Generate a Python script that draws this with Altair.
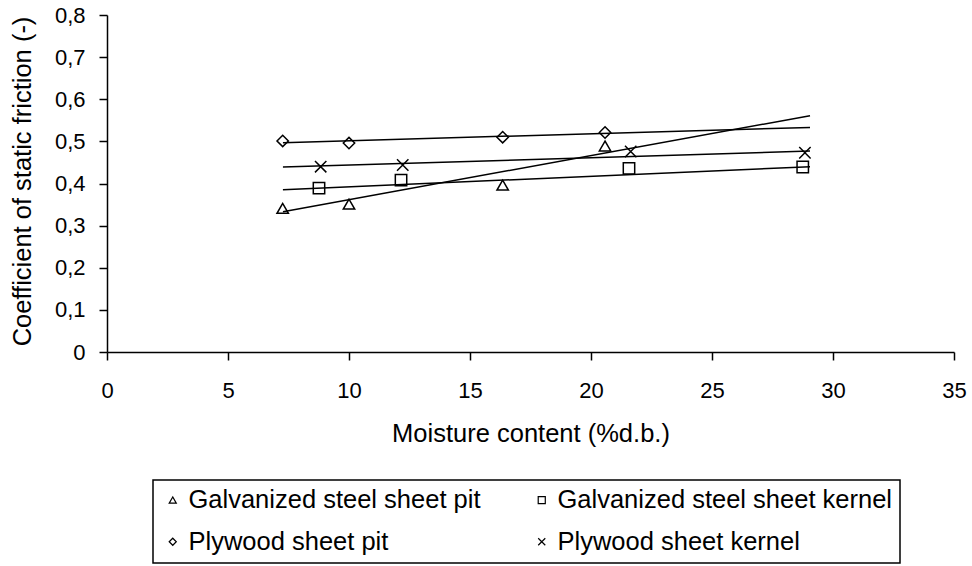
import altair as alt
import pandas as pd

FONT = "Liberation Sans"

series_names = [
    "Galvanized steel sheet pit",
    "Galvanized steel sheet kernel",
    "Plywood sheet pit",
    "Plywood sheet kernel",
]

# measured points (moisture %d.b., coefficient of static friction)
gs_pit_x = [7.26, 10.0, 16.35, 20.58]
gs_pit_y = [0.341, 0.351, 0.396, 0.489]
gs_kernel_x = [8.76, 12.15, 21.57, 28.75]
gs_kernel_y = [0.389, 0.408, 0.436, 0.439]
pw_pit_x = [7.26, 10.0, 16.35, 20.58]
pw_pit_y = [0.501, 0.496, 0.510, 0.521]
pw_kernel_x = [8.83, 12.22, 21.64, 28.84]
pw_kernel_y = [0.440, 0.444, 0.476, 0.473]

# trend line end points
trend_x = [7.27, 29.05]
gs_pit_trend = [0.333, 0.561]
gs_kernel_trend = [0.385, 0.440]
pw_pit_trend = [0.497, 0.533]
pw_kernel_trend = [0.439, 0.477]

x_ticks = [0, 5, 10, 15, 20, 25, 30, 35]
y_ticks = [0, 0.1, 0.2, 0.3, 0.4, 0.5, 0.6, 0.7, 0.8]

shape_range = ["triangle-up", "square", "diamond", "M-1,-1L1,1M-1,1L1,-1"]

pts_rows = []
for name, xs, ys in zip(series_names,
                        [gs_pit_x, gs_kernel_x, pw_pit_x, pw_kernel_x],
                        [gs_pit_y, gs_kernel_y, pw_pit_y, pw_kernel_y]):
    for xv, yv in zip(xs, ys):
        pts_rows.append({"series": name, "x": xv, "y": yv})
points = pd.DataFrame(pts_rows)

trend_rows = []
for name, ys in zip(series_names, [gs_pit_trend, gs_kernel_trend, pw_pit_trend, pw_kernel_trend]):
    for xv, yv in zip(trend_x, ys):
        trend_rows.append({"series": name, "x": xv, "y": yv})
trends = pd.DataFrame(trend_rows)

x_enc = alt.X(
    "x:Q",
    scale=alt.Scale(domain=[0, 35], nice=False, zero=False),
    axis=alt.Axis(
        values=x_ticks,
        title="Moisture content (%d.b.)",
        labelPadding=37,
        labelBaseline="alphabetic",
        labelFlush=False,
        titleY=89,
        titleBaseline="alphabetic",
    ),
)
y_enc = alt.Y(
    "y:Q",
    scale=alt.Scale(domain=[0, 0.8], nice=False),
    axis=alt.Axis(
        values=y_ticks,
        title="Coefficient of static friction (-)",
        labelExpr="replace(format(datum.value, '.1~f'), '.', ',')",
        labelPadding=14,
        labelFlush=False,
        titleX=-85,
        titleY=166,
        titleAlign="center",
        titleBaseline="middle",
        titleAngle=270,
    ),
)

lines = alt.Chart(trends).mark_line(color="black", strokeWidth=1.5).encode(
    x=x_enc, y=y_enc, detail="series:N"
)

pts = alt.Chart(points).mark_point(
    filled=False, color="black", strokeWidth=1.5, size=130, opacity=1
).encode(
    x=x_enc,
    y=y_enc,
    shape=alt.Shape(
        "series:N",
        title=None,
        scale=alt.Scale(domain=series_names, range=shape_range),
        legend=alt.Legend(
            orient="none",
            direction="horizontal",
            legendX=46,
            legendY=465,
            columns=2,
            columnPadding=48,
            rowPadding=15,
            padding=7,
            labelOffset=3,
            symbolSize=50,
            symbolStrokeWidth=1.2,
            symbolStrokeColor="black",
            symbolFillColor="transparent",
            labelFontSize=25.5,
            labelFont=FONT,
            labelColor="black",
            labelLimit=600,
            strokeColor="black",
        ),
    ),
)

chart = (
    alt.layer(lines, pts)
    .properties(
        width=847,
        height=337,
        autosize="none",
        padding={"left": 107, "top": 15, "right": 18, "bottom": 214},
        background="white",
    )
    .configure_view(stroke=None)
    .configure_axis(
        grid=False,
        domainColor="black",
        domainWidth=1.5,
        tickColor="black",
        tickWidth=1.5,
        tickSize=8,
        labelFont=FONT,
        labelFontSize=22,
        labelColor="black",
        titleFont=FONT,
        titleFontSize=25.5,
        titleFontWeight="normal",
        titleColor="black",
    )
    .configure_legend(strokeWidth=1.5)
)

chart.save("out.html", embed_options={"renderer": "svg", "actions": False})
